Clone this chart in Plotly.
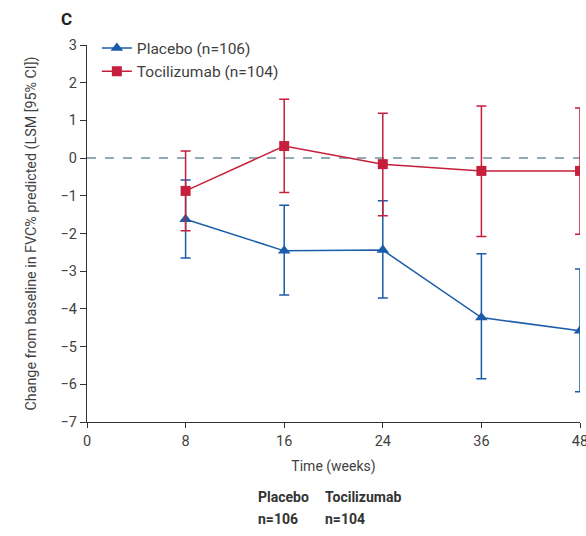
import plotly.graph_objects as go

weeks = ["0", "8", "16", "24", "36", "48"]
obs_weeks = ["8", "16", "24", "36", "48"]

placebo_mean = [-1.62, -2.46, -2.44, -4.23, -4.58]
placebo_upper = [-0.58, -1.25, -1.13, -2.54, -2.94]
placebo_lower = [-2.65, -3.63, -3.71, -5.85, -6.20]

toci_mean = [-0.87, 0.32, -0.16, -0.34, -0.34]
toci_upper = [0.19, 1.56, 1.19, 1.38, 1.33]
toci_lower = [-1.93, -0.91, -1.53, -2.08, -2.02]

y_ticks = [3, 2, 1, 0, -1, -2, -3, -4, -5, -6, -7]
y_ticktext = ["3", "2", "1", "0", "\u22121", "\u22122", "\u22123", "\u22124", "\u22125", "\u22126", "\u22127"]

BLUE = "#1b5ca8"
RED = "#c51f3b"
FONT = "Roboto"
TXT = "#3f3f3f"

fig = go.Figure()

fig.add_trace(go.Scatter(
    x=obs_weeks, y=placebo_mean, name="Placebo (n=106)",
    mode="lines+markers",
    line=dict(color=BLUE, width=1.5),
    marker=dict(symbol="triangle-up", size=11, color=BLUE),
    error_y=dict(type="data", symmetric=False,
                 array=[u - m for u, m in zip(placebo_upper, placebo_mean)],
                 arrayminus=[m - l for m, l in zip(placebo_mean, placebo_lower)],
                 color=BLUE, thickness=1.5, width=5),
))
fig.add_trace(go.Scatter(
    x=obs_weeks, y=toci_mean, name="Tocilizumab (n=104)",
    mode="lines+markers",
    line=dict(color=RED, width=1.5),
    marker=dict(symbol="square", size=10, color=RED),
    error_y=dict(type="data", symmetric=False,
                 array=[u - m for u, m in zip(toci_upper, toci_mean)],
                 arrayminus=[m - l for m, l in zip(toci_mean, toci_lower)],
                 color=RED, thickness=1.5, width=5),
))

fig.add_shape(type="line", xref="x", yref="y", x0=0, x1=5, y0=0, y1=0,
              line=dict(color="#6f8f9a", width=1.5, dash="dash"), layer="below")

fig.update_layout(
    width=586, height=536,
    margin=dict(l=87, r=6, t=45, b=114, autoexpand=False),
    paper_bgcolor="white", plot_bgcolor="white",
    font=dict(family=FONT, size=14, color=TXT),
    showlegend=True,
    legend=dict(x=0.02, y=1.036, xanchor="left", yanchor="top",
                bgcolor="rgba(0,0,0,0)", font=dict(size=15.5, color=TXT),
                tracegroupgap=0, itemwidth=30),
    xaxis=dict(type="category", categoryorder="array", categoryarray=weeks,
               range=[0, 5], showgrid=False, zeroline=False, automargin=False,
               showline=True, linecolor="#333", linewidth=1.2,
               ticks="outside", ticklen=5, tickcolor="#333", tickwidth=1.2,
               tickfont=dict(size=14.5, color=TXT),
               title=dict(text="Time (weeks)", font=dict(size=14, color=TXT), standoff=12)),
    yaxis=dict(range=[-7, 3], tickvals=y_ticks, ticktext=y_ticktext,
               showgrid=False, zeroline=False, automargin=False,
               showline=True, linecolor="#333", linewidth=1.2,
               ticks="outside", ticklen=6, tickcolor="#333", tickwidth=1.2,
               tickfont=dict(size=14.5, color=TXT),
               title=dict(text="Change from baseline in FVC% predicted (LSM [95% CI])",
                          font=dict(size=14.3, color=TXT), standoff=20)),
)

fig.add_annotation(text="<b>C</b>", xref="paper", yref="paper", x=-0.056, y=1.068,
                   xanchor="left", yanchor="middle", showarrow=False,
                   font=dict(size=17, color="#222"))

table = [("Placebo", "n=106", 0.343), ("Tocilizumab", "n=104", 0.479)]
for head, n, xp in table:
    fig.add_annotation(text="<b>" + head + "</b>", xref="paper", yref="paper", x=xp, y=-0.199,
                       xanchor="left", yanchor="middle", showarrow=False,
                       font=dict(size=14, color="#333"))
    fig.add_annotation(text="<b>" + n + "</b>", xref="paper", yref="paper", x=xp, y=-0.257,
                       xanchor="left", yanchor="middle", showarrow=False,
                       font=dict(size=14, color="#333"))

fig.write_html("out.html")
